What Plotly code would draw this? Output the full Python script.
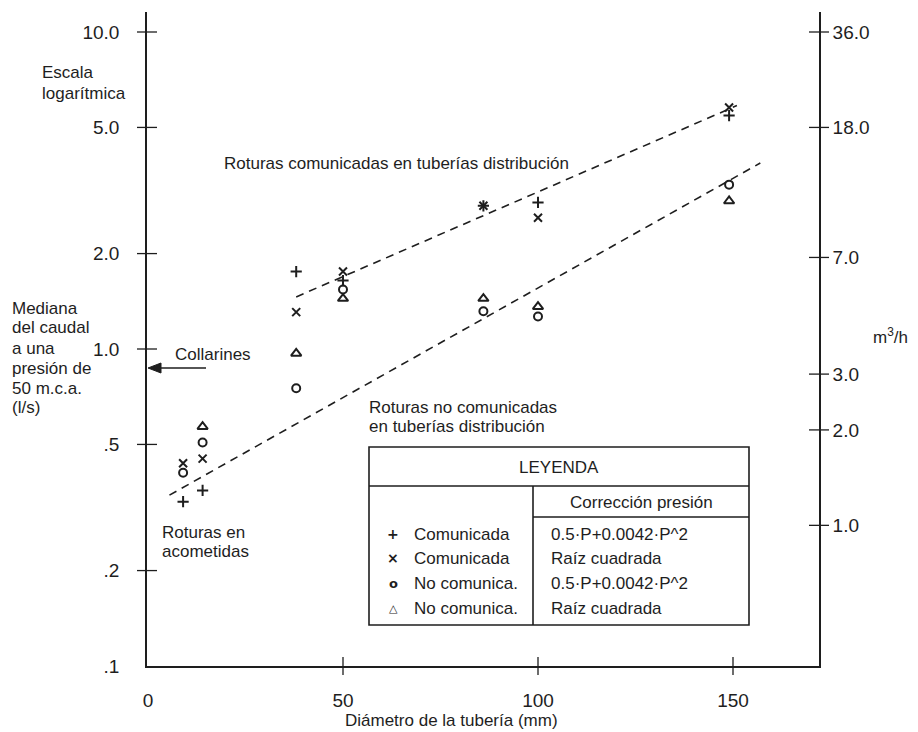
import math
import plotly.graph_objects as go

# ---------------- data ----------------
diam = [9, 14, 38, 50, 86, 100, 149]
q_com_poly = [0.33, 0.358, 1.755, 1.644, 2.83, 2.90, 5.45]      # + Comunicada 0.5P+0.0042P^2
q_com_sqrt = [0.436, 0.451, 1.307, 1.755, 2.83, 2.593, 5.78]    # x Comunicada raiz cuadrada
q_nocom_poly = [0.407, 0.507, 0.752, 1.54, 1.316, 1.266, 3.30]  # o No comunica. 0.5P+...
diam_tri = [14, 38, 50, 86, 100, 149]
q_nocom_sqrt = [0.569, 0.968, 1.442, 1.442, 1.36, 2.93]         # triangle No comunica. raiz

line_com_x = [38, 151]
line_com_y = [1.46, 5.86]
line_nocom_x = [5.5, 157]
line_nocom_y = [0.346, 3.86]

x_ticks = [0, 50, 100, 150]
y_ticks = [10, 5, 2, 1, 0.5, 0.2, 0.1]
y_ticktext = ["10.0", "5.0", "2.0", "1.0", ".5", ".2", ".1"]
y2_ticks = [36, 18, 7, 3, 2, 1]
y2_ticktext = ["36.0", "18.0", "7.0", "3.0", "2.0", "1.0"]
LS_TO_M3H = 3.6

# ---------------- layout helpers ----------------
L, R, T, B = 147, 819, 12, 666
W, H = R - L, B - T
def px(x):
    return (x - L) / W
def py(y):
    return (B - y) / H

INK = "#1e1e1e"
FONT = "Liberation Sans, Arial, sans-serif"
yr = [-1, 1.0631]
xr = [-0.256, 172.05]

fig = go.Figure()

dash = dict(color=INK, width=1.6, dash="8px,6px")
fig.add_trace(go.Scatter(x=line_com_x, y=line_com_y, mode="lines", line=dash, showlegend=False))
fig.add_trace(go.Scatter(x=line_nocom_x, y=line_nocom_y, mode="lines", line=dash, showlegend=False))

def mk(sym, size):
    return dict(symbol=sym, size=size, color=INK, line=dict(color=INK, width=2))

fig.add_trace(go.Scatter(x=diam, y=q_com_poly, mode="markers", marker=mk("cross-thin", 8), showlegend=False))
fig.add_trace(go.Scatter(x=diam, y=q_com_sqrt, mode="markers", marker=mk("x-thin", 8), showlegend=False))
fig.add_trace(go.Scatter(x=diam, y=q_nocom_poly, mode="markers", marker=mk("circle-open", 8), showlegend=False))
fig.add_trace(go.Scatter(x=diam_tri, y=q_nocom_sqrt, mode="markers", marker=mk("triangle-up-open", 9), showlegend=False))
fig.add_trace(go.Scatter(x=[None], y=[None], yaxis="y2", showlegend=False))

shapes = []
for v in y_ticks[:-1]:
    shapes.append(dict(type="line", xref="paper", yref="y", xsizemode="pixel", xanchor=0,
                       x0=-10, x1=10, y0=v, y1=v, line=dict(color=INK, width=1.3)))
for v in y2_ticks:
    shapes.append(dict(type="line", xref="paper", yref="y2", xsizemode="pixel", xanchor=1,
                       x0=-10, x1=10, y0=v, y1=v, line=dict(color=INK, width=1.3)))
for v in x_ticks[1:]:
    shapes.append(dict(type="line", xref="x", yref="paper", ysizemode="pixel", yanchor=0,
                       y0=-9, y1=9, x0=v, x1=v, line=dict(color=INK, width=1.3)))

# legend table
tl, tr, tt, tb = 369, 749, 447, 625
tline = dict(color=INK, width=1.6)
shapes.append(dict(type="rect", xref="paper", yref="paper", x0=px(tl), x1=px(tr), y0=py(tt), y1=py(tb),
                   line=tline, fillcolor="white", layer="above"))
shapes.append(dict(type="line", xref="paper", yref="paper", x0=px(tl), x1=px(tr), y0=py(486), y1=py(486), line=tline))
shapes.append(dict(type="line", xref="paper", yref="paper", x0=px(533), x1=px(tr), y0=py(517), y1=py(517), line=tline))
shapes.append(dict(type="line", xref="paper", yref="paper", x0=px(533), x1=px(533), y0=py(486), y1=py(tb), line=tline))

# Collarines arrow (line + filled head)
shapes.append(dict(type="line", xref="paper", yref="paper", x0=px(157), x1=px(206), y0=py(368), y1=py(368),
                   line=dict(color=INK, width=1.5)))
shapes.append(dict(type="path", xref="paper", yref="paper",
                   path="M {} {} L {} {} L {} {} Z".format(px(148), py(368), px(161), py(363), px(161), py(373)),
                   fillcolor=INK, line=dict(color=INK, width=1)))

ann = []
def txt(text, x, y, size=17, xanchor="left", yanchor="middle"):
    ann.append(dict(text=text, x=px(x), y=py(y), xref="paper", yref="paper", showarrow=False,
                    xanchor=xanchor, yanchor=yanchor, font=dict(family=FONT, size=size, color=INK)))

txt("Escala", 40, 72)
txt("logarítmica", 40, 93)
for i, s in enumerate(["Mediana", "del caudal", "a una", "presión de", "50 m.c.a.", "(l/s)"]):
    txt(s, 10, 308 + 20 * i)
txt("Collarines", 173, 354)
txt("Roturas comunicadas en tuberías distribución", 222, 163)
txt("Roturas no comunicadas", 367, 408)
txt("en tuberías distribución", 367, 427)
txt("Roturas en", 160, 532)
txt("acometidas", 160, 551)
txt("m<sup>3</sup>/h", 890, 336, xanchor="center")
txt("Diámetro de la tubería (mm)", 451, 721, xanchor="center")

txt("LEYENDA", 559, 467, xanchor="center")
txt("Corrección presión", 641, 502, xanchor="center")
rows_y = [534, 558, 583, 608]
syms = ["+", "×", "o", "△"]
sym_sizes = [14, 14, 13, 11]
labels_l = ["Comunicada", "Comunicada", "No comunica.", "No comunica."]
labels_r = ["0.5·P+0.0042·P^2", "Raíz cuadrada", "0.5·P+0.0042·P^2", "Raíz cuadrada"]
for yy, s, ss, a, b in zip(rows_y, syms, sym_sizes, labels_l, labels_r):
    ann.append(dict(text="<b>" + s + "</b>", x=px(393), y=py(yy), xref="paper", yref="paper", showarrow=False,
                    xanchor="center", yanchor="middle", font=dict(family="DejaVu Sans", size=ss, color=INK)))
    txt(a, 412, yy)
    txt(b, 549, yy)

axis_font = dict(family=FONT, size=19, color=INK)
fig.update_layout(
    width=918, height=732,
    margin=dict(l=L, r=918 - R, t=T, b=732 - B),
    paper_bgcolor="white", plot_bgcolor="white",
    showlegend=False,
    xaxis=dict(range=xr, tickvals=x_ticks, ticktext=[str(v) for v in x_ticks], ticks="",
               showline=True, linecolor=INK, linewidth=1.6, showgrid=False, zeroline=False,
               tickfont=axis_font, ticklabelstandoff=16),
    yaxis=dict(type="log", range=yr, tickvals=y_ticks, ticktext=y_ticktext, ticks="",
               showline=True, linecolor=INK, linewidth=1.6, showgrid=False, zeroline=False,
               tickfont=axis_font, ticklabelstandoff=22),
    yaxis2=dict(type="log", overlaying="y", side="right", anchor="x",
                range=[yr[0] + math.log10(LS_TO_M3H), yr[1] + math.log10(LS_TO_M3H)],
                tickvals=y2_ticks, ticktext=y2_ticktext, ticks="",
                showline=True, linecolor=INK, linewidth=1.6, showgrid=False, zeroline=False,
                tickfont=axis_font, ticklabelstandoff=8),
    shapes=shapes,
    annotations=ann,
)

fig.write_html("out.html")
